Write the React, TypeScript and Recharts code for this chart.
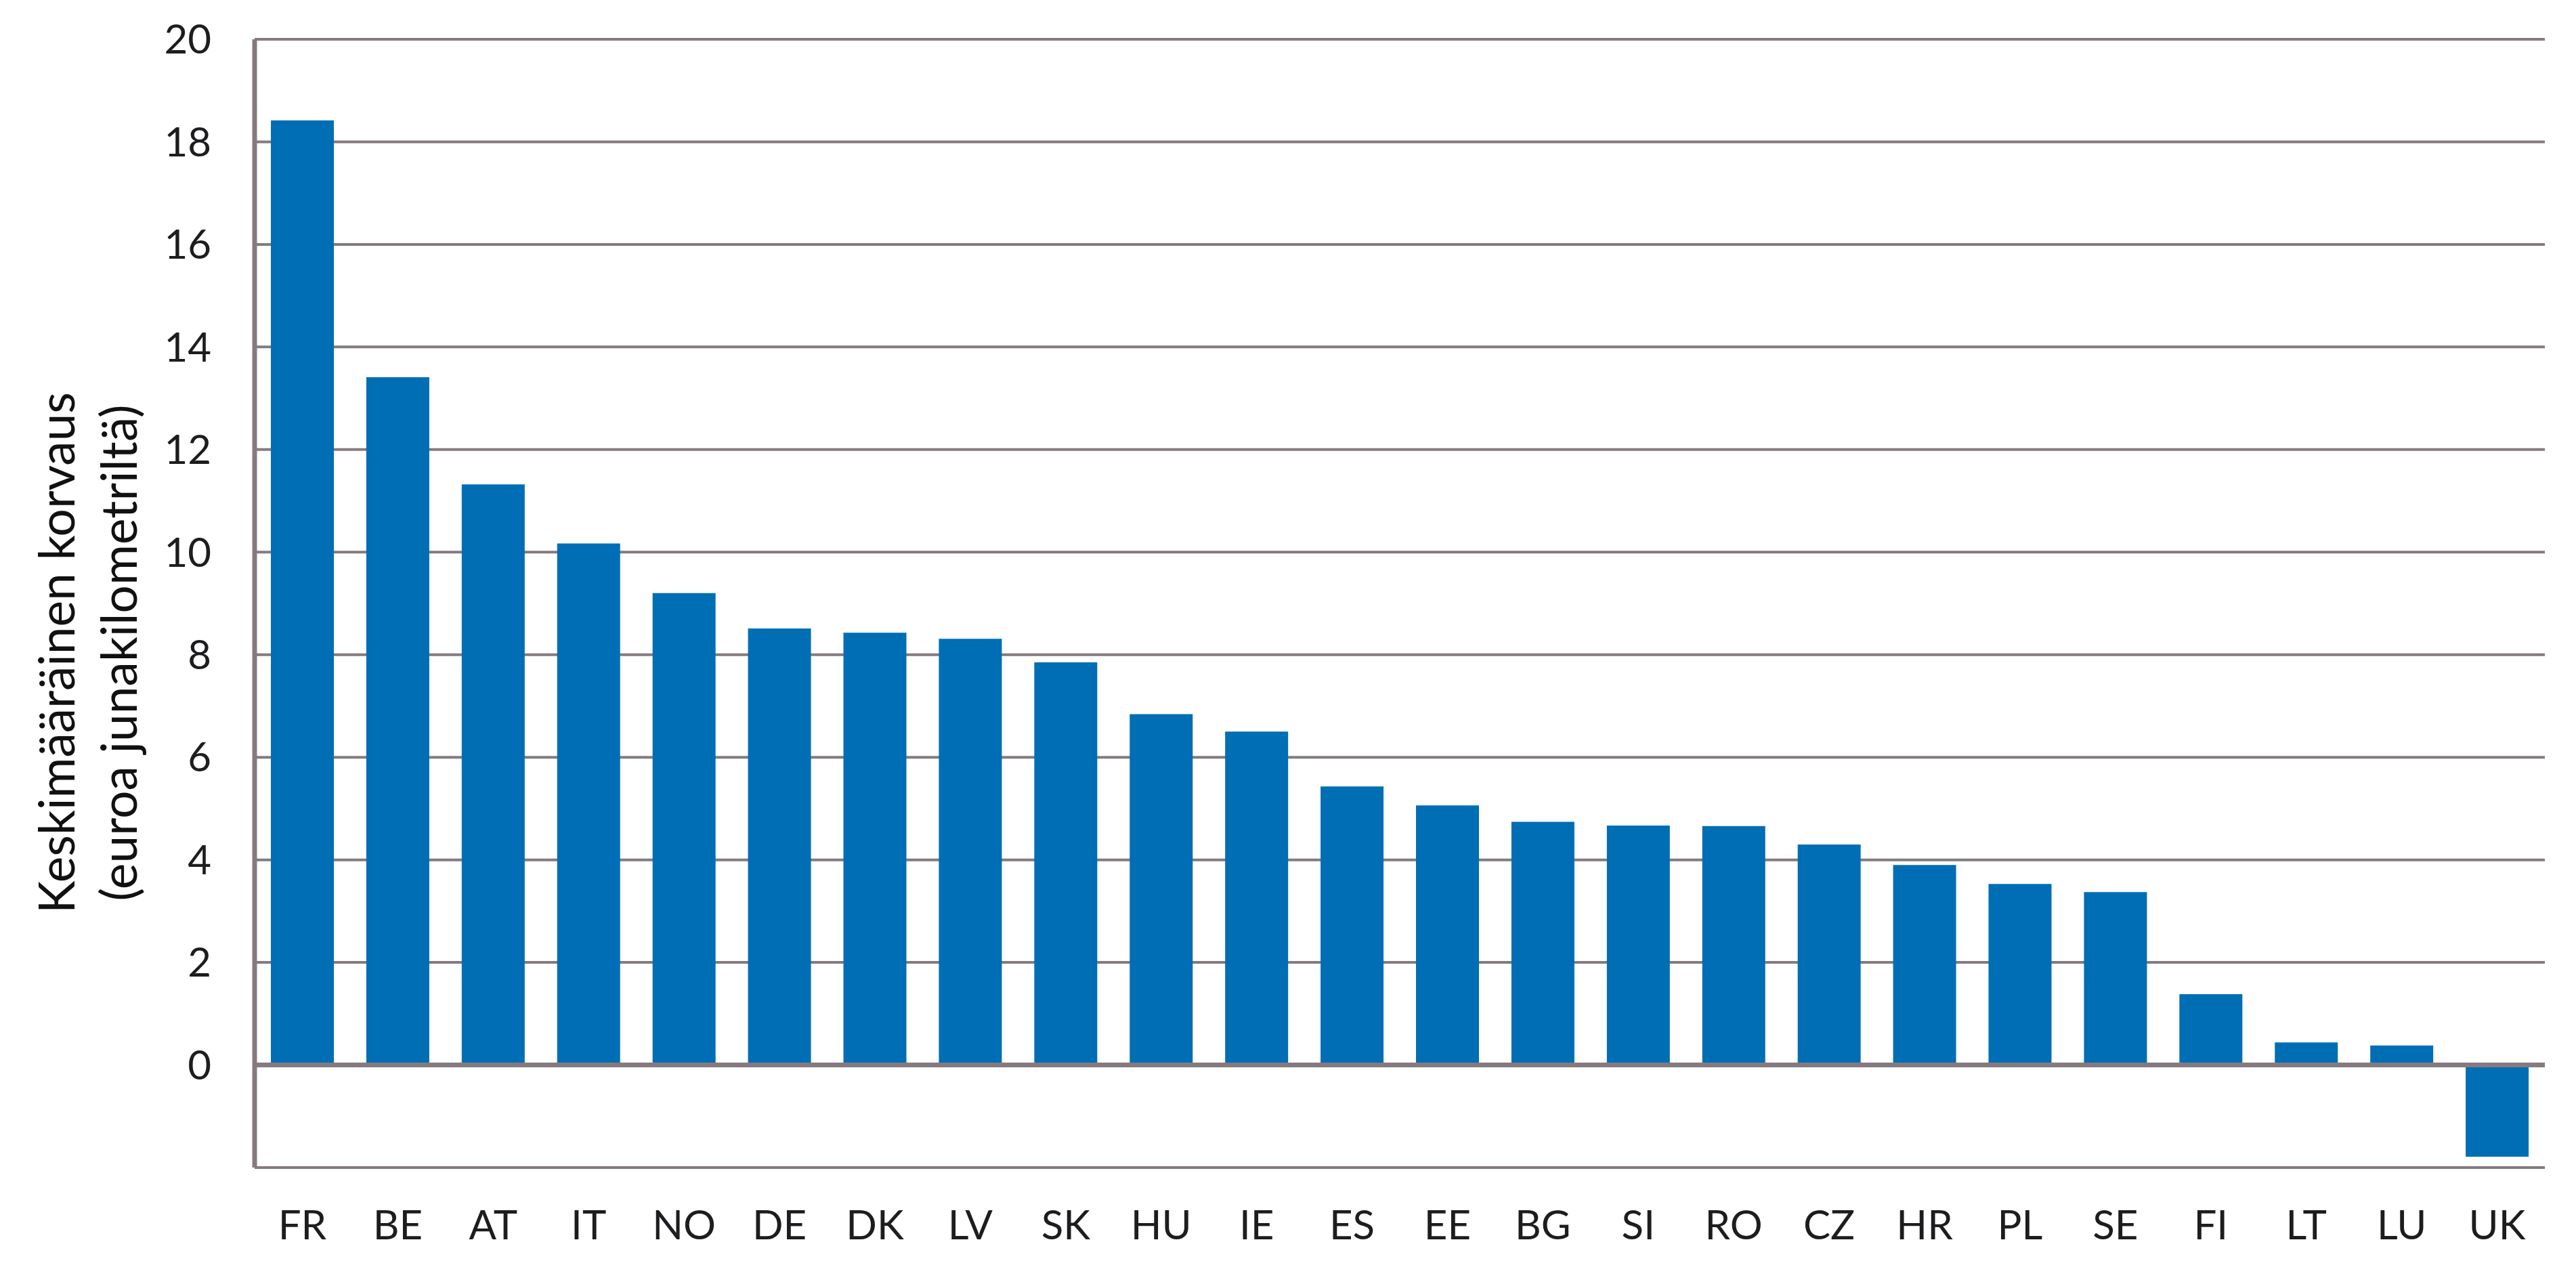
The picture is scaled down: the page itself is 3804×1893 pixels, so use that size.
import { BarChart, Bar, XAxis, YAxis, CartesianGrid, ReferenceLine, Label } from 'recharts';

const countries = ['FR', 'BE', 'AT', 'IT', 'NO', 'DE', 'DK', 'LV', 'SK', 'HU', 'IE', 'ES', 'EE', 'BG', 'SI', 'RO', 'CZ', 'HR', 'PL', 'SE', 'FI', 'LT', 'LU', 'UK'];
const compensation = [18.42, 13.41, 11.32, 10.17, 9.2, 8.51, 8.43, 8.31, 7.85, 6.84, 6.5, 5.43, 5.06, 4.74, 4.67, 4.66, 4.3, 3.9, 3.53, 3.37, 1.38, 0.44, 0.38, -1.79];
const yTicks = [-2, 0, 2, 4, 6, 8, 10, 12, 14, 16, 18, 20];
const titleLines = ['Keskimääräinen korvaus', '(euroa junakilometriltä)'];

const data = countries.map((c, i) => ({ country: c, value: compensation[i] }));

const GRID = '#857a7f';
const BAR = '#006eb4';
const FONT = 'Lato, "Open Sans", sans-serif';

// two-line rotated y axis title
const AxisTitle = () => (
  <g>
    {titleLines.map((line, i) => {
      const x = 110 + i * 92;
      const y = 964;
      return (
        <text
          key={line}
          x={x}
          y={y}
          transform={`rotate(-90, ${x}, ${y})`}
          textAnchor="middle"
          fontSize={73}
          fontFamily={FONT}
          fill="#111"
        >
          {line}
        </text>
      );
    })}
  </g>
);

export default function App() {
  return (
    <div style={{ position: 'absolute', left: 0, top: 0, background: '#fff' }}>
      <BarChart
        width={3804}
        height={1893}
        data={data}
        margin={{ top: 58, right: 46, bottom: 0, left: 0 }}
        barSize={93}
      >
        <CartesianGrid vertical={false} stroke={GRID} strokeWidth={4} />
        <XAxis
          dataKey="country"
          interval={0}
          height={169}
          axisLine={false}
          tickLine={false}
          tickSize={0}
          tickMargin={63}
          tick={{ fontSize: 60, fontFamily: FONT, fill: '#1d1d1f' }}
        />
        <YAxis
          type="number"
          domain={[-2, 20]}
          ticks={yTicks}
          interval={0}
          width={376}
          axisLine={{ stroke: GRID, strokeWidth: 7 }}
          tickLine={false}
          tickSize={0}
          tickMargin={64}
          tickFormatter={(v: number) => (v === -2 ? '' : String(v))}
          tick={{ fontSize: 60, fontFamily: FONT, fill: '#1d1d1f' }}
        >
          <Label content={<AxisTitle />} />
        </YAxis>
        <Bar dataKey="value" fill={BAR} isAnimationActive={false} />
        <ReferenceLine y={0} stroke={GRID} strokeWidth={7} />
      </BarChart>
    </div>
  );
}
